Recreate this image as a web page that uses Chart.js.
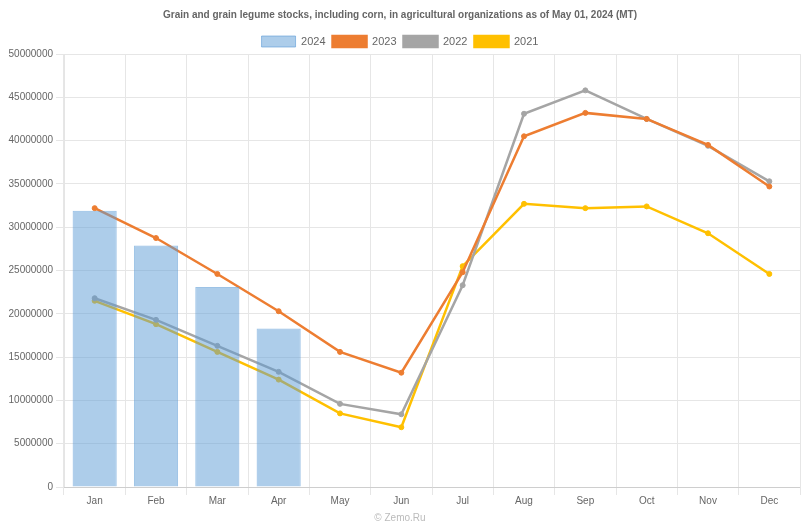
<!DOCTYPE html>
<html lang="en">
<head>
    <meta charset="UTF-8">
    <title>Grain stocks</title>
    <script src="https://cdn.jsdelivr.net/npm/chart.js"></script>
    <style>
        body {
            margin: 0;
            background: #ffffff;
        }
        .wrap {
            width: 806px;
            height: 524px;
        }
    </style>
</head>
<body>
    <div class="wrap">
        <canvas id="stocksChart"></canvas>
    </div>

    <script>
        const months = ['Jan', 'Feb', 'Mar', 'Apr', 'May', 'Jun', 'Jul', 'Aug', 'Sep', 'Oct', 'Nov', 'Dec'];

        const stocks2024 = [31900000, 27900000, 23100000, 18300000];
        const stocks2023 = [32200000, 28750000, 24600000, 20300000, 15600000, 13200000, 24800000, 40500000, 43200000, 42500000, 39500000, 34700000];
        const stocks2022 = [21800000, 19300000, 16300000, 13300000, 9600000, 8400000, 23300000, 43100000, 45800000, 42500000, 39400000, 35300000];
        const stocks2021 = [21500000, 18800000, 15600000, 12400000, 8500000, 6900000, 25500000, 32700000, 32200000, 32400000, 29300000, 24600000];

        Chart.defaults.font.family = '"Liberation Sans", Arial, sans-serif';
        Chart.defaults.font.size = 10;
        Chart.defaults.color = '#666';

        function lineSet(label, data, color) {
            return {
                type: 'line',
                label: label,
                data: data,
                borderColor: color,
                backgroundColor: color,
                borderWidth: 2.5,
                pointRadius: 2.5,
                pointBorderWidth: 1,
                pointHoverRadius: 4,
                fill: false,
                tension: 0
            };
        }

        new Chart(document.getElementById('stocksChart'), {
            data: {
                labels: months,
                datasets: [
                    {
                        type: 'bar',
                        label: '2024',
                        data: stocks2024,
                        backgroundColor: 'rgba(91, 155, 213, 0.5)',
                        borderColor: 'rgba(91, 155, 213, 0.6)',
                        borderWidth: 1
                    },
                    lineSet('2023', stocks2023, '#ED7D31'),
                    lineSet('2022', stocks2022, '#A5A5A5'),
                    lineSet('2021', stocks2021, '#FFC000')
                ]
            },
            options: {
                responsive: true,
                maintainAspectRatio: false,
                animation: false,
                layout: {
                    padding: { left: 0, right: 6, top: 0, bottom: 0 }
                },
                scales: {
                    x: {
                        grid: { color: '#e6e6e6' },
                        ticks: { padding: 0 }
                    },
                    y: {
                        min: 0,
                        max: 50000000,
                        ticks: {
                            stepSize: 5000000,
                            callback: v => String(v)
                        },
                        grid: { color: '#e6e6e6' },
                        afterFit: scale => { scale.width = 64; }
                    }
                },
                plugins: {
                    title: {
                        display: true,
                        text: 'Grain and grain legume stocks, including corn, in agricultural organizations as of May 01, 2024 (MT)',
                        font: { size: 10, weight: 'bold' },
                        padding: { top: 9, bottom: 8 }
                    },
                    legend: {
                        maxHeight: 25,
                        labels: {
                            boxWidth: 34,
                            boxHeight: 11,
                            padding: 7,
                            font: { size: 11 }
                        }
                    },
                    subtitle: {
                        display: true,
                        position: 'bottom',
                        text: '© Zemo.Ru',
                        color: '#bbb',
                        font: { size: 10 },
                        padding: { top: 5, bottom: 0 }
                    }
                }
            }
        });
    </script>
</body>
</html>
